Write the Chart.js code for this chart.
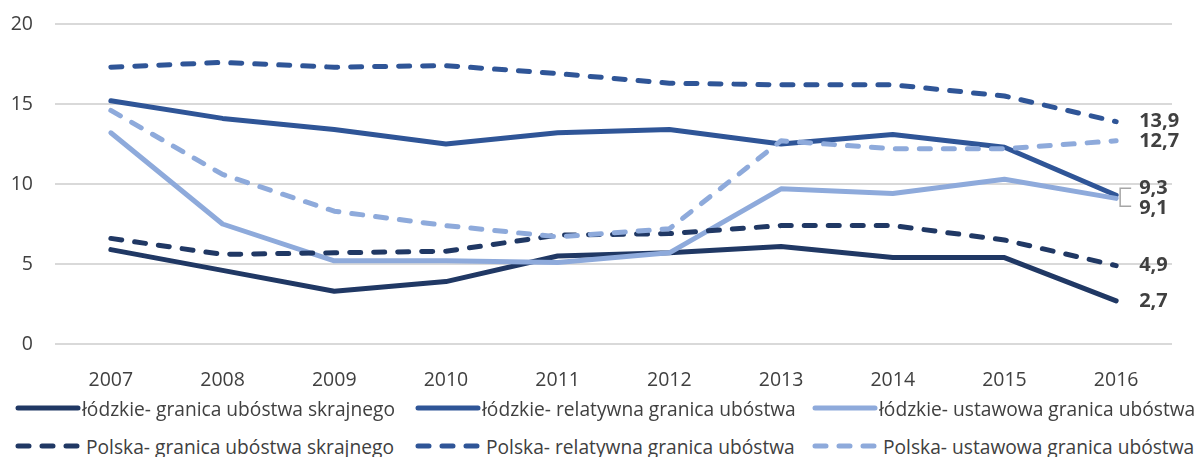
<!DOCTYPE html>
<html>
<head>
<meta charset="utf-8">
<script src="https://cdn.jsdelivr.net/npm/chart.js@4.4.1/dist/chart.umd.min.js"></script>
<style>
  html, body { margin: 0; padding: 0; background: #fff; }
  #wrap { position: relative; width: 1201px; height: 457px; overflow: hidden; }
  #box { position: absolute; left: 0; top: 0; width: 1201px; height: 400px; }
  #legend { position: absolute; left: 0; top: 390px; width: 1201px; font-family: "Open Sans", sans-serif; font-size: 19.2px; color: #404040; }
  .item { position: absolute; display: flex; align-items: center; white-space: nowrap; height: 22px; }
  .item svg { margin-right: 1px; }
</style>
</head>
<body>
<div id="wrap">
  <div id="box"><canvas id="chart"></canvas></div>
  <div id="legend"></div>
</div>
<script>
const years = ["2007", "2008", "2009", "2010", "2011", "2012", "2013", "2014", "2015", "2016"];

const lodzSkrajne   = [5.9, 4.6, 3.3, 3.9, 5.5, 5.7, 6.1, 5.4, 5.4, 2.7];
const lodzRelatywna = [15.2, 14.1, 13.4, 12.5, 13.2, 13.4, 12.5, 13.1, 12.3, 9.3];
const lodzUstawowa  = [13.2, 7.5, 5.2, 5.2, 5.1, 5.7, 9.7, 9.4, 10.3, 9.1];
const plSkrajne     = [6.6, 5.6, 5.7, 5.8, 6.8, 6.9, 7.4, 7.4, 6.5, 4.9];
const plRelatywna   = [17.3, 17.6, 17.3, 17.4, 16.9, 16.3, 16.2, 16.2, 15.5, 13.9];
const plUstawowa    = [14.6, 10.6, 8.3, 7.4, 6.7, 7.2, 12.7, 12.2, 12.2, 12.7];

const seriesNames = [
  "łódzkie- granica ubóstwa skrajnego",
  "łódzkie- relatywna granica ubóstwa",
  "łódzkie- ustawowa granica ubóstwa",
  "Polska- granica ubóstwa skrajnego",
  "Polska- relatywna granica ubóstwa",
  "Polska- ustawowa granica ubóstwa"
];
const yTicks = [0, 5, 10, 15, 20];

const navy = "#203864";
const blue = "#2f5597";
const light = "#8eaadb";
const colors = [navy, blue, light, navy, blue, light];
const allData = [lodzSkrajne, lodzRelatywna, lodzUstawowa, plSkrajne, plRelatywna, plUstawowa];
const DASH = [11, 13];

const datasets = allData.map((d, i) => ({
  label: seriesNames[i],
  data: d,
  borderColor: colors[i],
  backgroundColor: colors[i],
  borderWidth: 5,
  borderDash: i >= 3 ? DASH : [],
  borderCapStyle: "round",
  borderJoinStyle: "round",
  pointRadius: 0,
  tension: 0,
  fill: false,
  order: 6 - i
}));

// end-of-line value labels
const endLabels = {
  id: "endLabels",
  afterDatasetsDraw(chart) {
    const ctx = chart.ctx;
    ctx.save();
    ctx.font = "bold 20px 'Open Sans', sans-serif";
    ctx.fillStyle = "#404040";
    ctx.textBaseline = "middle";
    ctx.textAlign = "left";
    chart.data.datasets.forEach((ds, i) => {
      const meta = chart.getDatasetMeta(i);
      const pt = meta.data[meta.data.length - 1];
      const v = ds.data[ds.data.length - 1];
      let dy = 0;
      if (i === 1) dy = -7;   // 9,3
      if (i === 2) dy = 10;   // 9,1
      ctx.fillText(v.toFixed(1).replace(".", ","), pt.x + 23, pt.y + dy);
    });
    // small bracket leader for the two overlapping labels
    const p = chart.getDatasetMeta(1).data[9];
    ctx.strokeStyle = "#a6a6a6";
    ctx.lineWidth = 1.5;
    ctx.beginPath();
    ctx.moveTo(p.x + 15, p.y - 7);
    ctx.lineTo(p.x + 4, p.y - 7);
    ctx.lineTo(p.x + 4, p.y + 11);
    ctx.lineTo(p.x + 15, p.y + 11);
    ctx.stroke();
    ctx.restore();
  }
};

new Chart(document.getElementById("chart"), {
  type: "line",
  data: { labels: years, datasets: datasets },
  plugins: [endLabels],
  options: {
    responsive: true,
    maintainAspectRatio: false,
    animation: false,
    layout: { padding: { top: 24, right: 29, bottom: 0, left: 0 } },
    plugins: {
      legend: { display: false },
      tooltip: { enabled: false },
      title: { display: false }
    },
    scales: {
      x: {
        offset: true,
        grid: { display: false },
        border: { display: false },
        ticks: {
          color: "#404040",
          font: { family: "Open Sans", size: 19.5 },
          padding: 17,
          maxRotation: 0
        },
        afterFit(scale) { scale.height = 56; }
      },
      y: {
        min: 0,
        max: 20,
        afterBuildTicks(scale) { scale.ticks = yTicks.map(v => ({ value: v })); },
        grid: { color: "#d9d9d9", lineWidth: 2, drawTicks: false },
        border: { display: false },
        ticks: {
          color: "#404040",
          font: { family: "Open Sans", size: 19.5 },
          padding: 22
        },
        afterFit(scale) {
          scale.width = 55;
          scale.paddingTop = 0;
          scale.paddingBottom = 0;
        }
      }
    }
  }
});

// legend: 2 rows x 3 columns
const legend = document.getElementById("legend");
const colX = [15, 415, 812];
const rowY = [7, 45];
seriesNames.forEach((name, i) => {
  const row = i < 3 ? 0 : 1;
  const col = i % 3;
  const div = document.createElement("div");
  div.className = "item";
  div.style.left = colX[col] + "px";
  div.style.top = rowY[row] + "px";
  const dash = i >= 3 ? ' stroke-dasharray="' + DASH.join(" ") + '"' : "";
  div.innerHTML =
    '<svg width="66" height="10"><line x1="3" y1="5" x2="' + (i >= 3 ? 66 : 63) + '" y2="5" stroke="' + colors[i] +
    '" stroke-width="5" stroke-linecap="round"' + dash + '/></svg>' +
    '<span style="margin-left:' + (i >= 3 ? 4 : 0) + 'px">' + name + '</span>';
  legend.appendChild(div);
});
</script>
</body>
</html>
